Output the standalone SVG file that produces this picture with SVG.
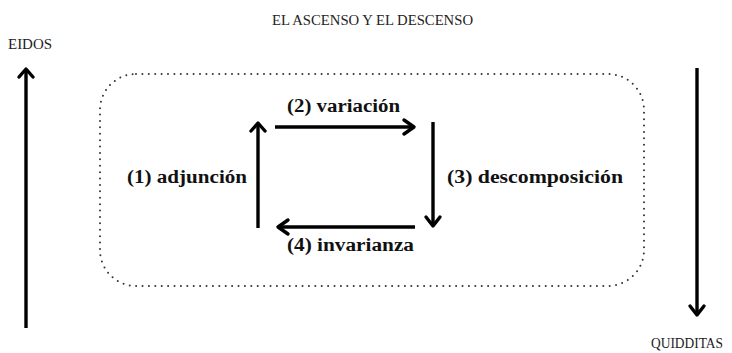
<svg xmlns="http://www.w3.org/2000/svg" width="732" height="353" viewBox="0 0 732 353">
<style>
.cap{font-family:"Liberation Serif","Times New Roman",serif;font-size:14px;fill:#222}
.lbl{font-family:"Liberation Serif","Times New Roman",serif;font-size:18px;font-weight:bold;fill:#111}
.arr{stroke:#000;stroke-width:3.4;fill:none;stroke-linecap:butt}
.head{stroke:#000;stroke-width:3.4;fill:none;stroke-linecap:round;stroke-linejoin:round}
.dot{fill:none;stroke:#333;stroke-width:2;stroke-linecap:round;stroke-dasharray:0 6.4}
</style>
<rect width="732" height="353" fill="#fff"/>
<g id="title"><text class="cap" x="272" y="25" textLength="201" lengthAdjust="spacingAndGlyphs">EL ASCENSO Y EL DESCENSO</text></g>
<g id="eidos"><text class="cap" x="8" y="49" textLength="44" lengthAdjust="spacingAndGlyphs">EIDOS</text></g>
<g id="quidditas"><text class="cap" x="651" y="348" textLength="72" lengthAdjust="spacingAndGlyphs">QUIDDITAS</text></g>
<g id="frame"><rect class="dot" x="100" y="74" width="544" height="212" rx="36" ry="36"/></g>
<g id="label1"><text class="lbl" x="127" y="183" textLength="120" lengthAdjust="spacingAndGlyphs">(1) adjunción</text></g>
<g id="label2"><text class="lbl" x="287" y="112" textLength="113" lengthAdjust="spacingAndGlyphs">(2) variación</text></g>
<g id="label3"><text class="lbl" x="447" y="183" textLength="176" lengthAdjust="spacingAndGlyphs">(3) descomposición</text></g>
<g id="label4"><text class="lbl" x="287" y="251" textLength="127" lengthAdjust="spacingAndGlyphs">(4) invarianza</text></g>
<g id="connectors">
<line class="arr" x1="26" y1="328" x2="26" y2="70"/>
<polyline class="head" points="19,77 26,69 33,77"/>
<line class="arr" x1="697" y1="68" x2="697" y2="314"/>
<polyline class="head" points="690,306 697,315 704,306"/>
<line class="arr" x1="258" y1="228" x2="258" y2="124"/>
<polyline class="head" points="251,131 258,123 265,131"/>
<line class="arr" x1="275" y1="127" x2="413" y2="127"/>
<polyline class="head" points="404,120 414,127 404,134"/>
<line class="arr" x1="433" y1="122" x2="433" y2="225"/>
<polyline class="head" points="426,217 433,226 440,217"/>
<line class="arr" x1="415" y1="227" x2="279" y2="227"/>
<polyline class="head" points="288,220 278,227 288,234"/>
</g>
</svg>
